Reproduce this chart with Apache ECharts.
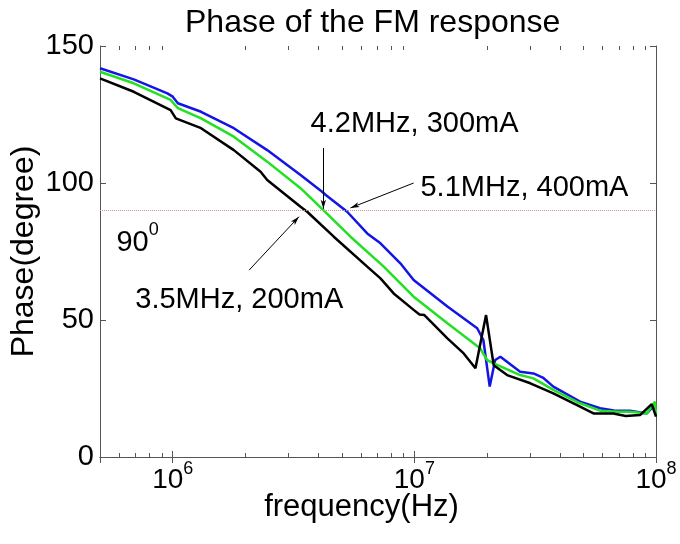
<!DOCTYPE html>
<html>
<head>
<meta charset="utf-8">
<title>Phase of the FM response</title>
<script src="https://cdn.jsdelivr.net/npm/echarts@6/dist/echarts.min.js"></script>
<style>
    html, body { margin: 0; padding: 0; background: #fff; }
    #main { width: 680px; height: 544px; }
</style>
</head>
<body>
<div id="main"></div>
<script>
    // values: frequency (Hz) and phase (degree)
    var blueFreq = [5.0e5, 6.9e5, 9.5e5, 1.0e6, 1.05e6, 1.31e6, 1.79e6, 2.46e6, 3.38e6, 4.15e6, 4.3e6, 5.27e6, 6.38e6, 7.24e6, 8.75e6, 9.93e6, 1.37e7, 1.82e7, 1.93e7, 2.05e7, 2.16e7, 2.27e7, 2.74e7, 3.11e7, 3.4e7, 3.76e7, 4.85e7, 5.87e7, 6.7e7, 7.81e7, 9.16e7, 9.74e7, 1.0e8];
    var bluePhase = [141.9, 137.8, 132.7, 131.5, 129.1, 126.0, 120.0, 112.0, 102.9, 96.8, 95.6, 89.5, 81.6, 78.0, 70.7, 64.6, 54.9, 47.0, 42.7, 25.7, 35.4, 36.6, 31.1, 30.5, 29.0, 25.7, 20.2, 17.8, 17.0, 16.9, 15.9, 18.5, 16.1];

    var greenFreq = [5.0e5, 6.9e5, 9.8e5, 1.05e6, 1.31e6, 1.79e6, 2.46e6, 3.38e6, 4.2e6, 5.44e6, 7.47e6, 9.93e6, 1.37e7, 1.87e7, 2.0e7, 2.2e7, 2.74e7, 3.11e7, 3.76e7, 4.85e7, 5.87e7, 7.0e7, 7.81e7, 9.16e7, 9.9e7, 1.0e8];
    var greenPhase = [140.6, 136.4, 130.3, 127.3, 123.6, 116.9, 107.8, 98.1, 90.1, 80.4, 69.5, 58.5, 48.8, 39.7, 35.4, 33.6, 29.9, 28.7, 24.5, 19.6, 16.9, 16.5, 16.5, 15.9, 20.2, 15.9];

    var blackFreq = [5.0e5, 6.9e5, 9.8e5, 1.03e6, 1.31e6, 1.79e6, 2.31e6, 2.46e6, 3.38e6, 3.6e6, 4.64e6, 6.38e6, 7.24e6, 8.21e6, 9.93e6, 1.05e7, 1.1e7, 1.37e7, 1.6e7, 1.79e7, 1.98e7, 2.13e7, 2.42e7, 3.02e7, 3.76e7, 4.85e7, 5.51e7, 6.66e7, 7.5e7, 8.59e7, 9.6e7, 1.0e8];
    var blackPhase = [138.2, 133.3, 126.6, 123.6, 120.0, 112.0, 104.1, 101.1, 91.3, 89.5, 80.4, 69.5, 65.2, 59.7, 53.7, 52.0, 51.8, 43.3, 37.8, 32.4, 51.8, 33.5, 29.9, 26.9, 23.2, 18.4, 15.9, 15.9, 15.0, 15.3, 19.3, 14.7];

    // log-axis minor ticks (2..9 x 10^n)
    var minorTickFreq = [6e5, 7e5, 8e5, 9e5, 2e6, 3e6, 4e6, 5e6, 6e6, 7e6, 8e6, 9e6, 2e7, 3e7, 4e7, 5e7, 6e7, 7e7, 8e7, 9e7];

    // annotations
    var noteText = ['4.2MHz, 300mA', '5.1MHz, 400mA', '3.5MHz, 200mA'];
    var noteFreq = [3.72e6, 1.06e7, 7.0e5];
    var notePhase = [121.5, 98.2, 57.3];
    var arrowFrom = [[4.2e6, 112.8], [9.93e6, 100.0], [2.07e6, 68.2]];
    var arrowTo = [[4.2e6, 90.6], [5.44e6, 90.9], [3.33e6, 87.7]];
    var refPhase = 90;

    var font = "'Liberation Sans', Arial, sans-serif";
    var axisColor = '#555';

    function zip(xs, ys) {
        var out = [];
        for (var i = 0; i < xs.length; i++) out.push([xs[i], ys[i]]);
        return out;
    }

    var myChart = echarts.init(document.getElementById('main'));
    myChart.setOption({
        animation: false,
        backgroundColor: '#fff',
        title: {
            text: 'Phase of the FM response',
            left: 180,
            top: 2,
            textStyle: { fontFamily: font, fontSize: 32, fontWeight: 'normal', color: '#000' }
        },
        grid: { left: 100, right: 24, top: 46, bottom: 87 },
        xAxis: [
            {
                type: 'log',
                logBase: 10,
                min: 5e5,
                max: 1e8,
                name: 'frequency(Hz)',
                nameLocation: 'middle',
                nameGap: 35,
                nameMoveOverlap: false,
                nameTextStyle: { fontFamily: font, fontSize: 31, color: '#000', padding: [0, 33, 0, 0] },
                axisLine: { show: true, lineStyle: { color: axisColor, width: 1 } },
                axisTick: { show: true, inside: true, length: 6, lineStyle: { color: axisColor } },
                splitLine: { show: false },
                axisLabel: {
                    margin: 3,
                    formatter: function (v) {
                        var e = Math.round(Math.log10(v));
                        if (Math.abs(Math.pow(10, e) - v) > v * 1e-6) return '';
                        return '{b|10}{s|' + e + '}';
                    },
                    rich: {
                        b: { fontFamily: font, fontSize: 28, color: '#000', lineHeight: 34, verticalAlign: 'bottom' },
                        s: { fontFamily: font, fontSize: 18, color: '#000', lineHeight: 18, verticalAlign: 'top' }
                    }
                }
            },
            {
                type: 'log',
                logBase: 10,
                min: 5e5,
                max: 1e8,
                position: 'top',
                axisLine: { show: true, lineStyle: { color: axisColor, width: 1 } },
                axisTick: { show: true, inside: true, length: 6, lineStyle: { color: axisColor } },
                axisLabel: { show: false },
                splitLine: { show: false }
            }
        ],
        yAxis: [
            {
                type: 'value',
                min: 0,
                max: 150,
                interval: 50,
                name: 'Phase(degree)',
                nameLocation: 'middle',
                nameGap: 60,
                nameMoveOverlap: false,
                nameTextStyle: { fontFamily: font, fontSize: 32, color: '#000' },
                axisLine: { show: true, lineStyle: { color: axisColor, width: 1 } },
                axisTick: { show: true, inside: true, length: 6, lineStyle: { color: axisColor } },
                axisLabel: { margin: 6, fontFamily: font, fontSize: 29, color: '#000' },
                splitLine: { show: false }
            },
            {
                type: 'value',
                min: 0,
                max: 150,
                interval: 50,
                position: 'right',
                axisLine: { show: true, lineStyle: { color: axisColor, width: 1 } },
                axisTick: { show: true, inside: true, length: 6, lineStyle: { color: axisColor } },
                axisLabel: { show: false },
                splitLine: { show: false }
            }
        ],
        series: [
            {
                name: '5.1MHz, 400mA',
                type: 'line',
                data: zip(blueFreq, bluePhase),
                showSymbol: false,
                lineStyle: { color: '#1414e6', width: 2.5 },
                silent: true
            },
            {
                name: '4.2MHz, 300mA',
                type: 'line',
                data: zip(greenFreq, greenPhase),
                showSymbol: false,
                lineStyle: { color: '#22e022', width: 2.5 },
                silent: true,
                markLine: {
                    silent: true,
                    symbol: 'none',
                    label: { show: false },
                    lineStyle: { color: '#d89090', type: 'dotted', width: 1 },
                    data: [{ yAxis: refPhase }]
                }
            },
            {
                name: '3.5MHz, 200mA',
                type: 'line',
                data: zip(blackFreq, blackPhase),
                showSymbol: false,
                lineStyle: { color: '#000', width: 2.5 },
                silent: true,
                markLine: {
                    silent: true,
                    symbol: ['none', 'arrow'],
                    symbolSize: [4, 9],
                    label: { show: false },
                    lineStyle: { color: '#000', type: 'solid', width: 1 },
                    data: arrowFrom.map(function (p, i) {
                        return [{ coord: p }, { coord: arrowTo[i] }];
                    })
                },
                markPoint: {
                    silent: true,
                    symbol: 'circle',
                    symbolSize: 0,
                    label: {
                        show: true,
                        position: 'right',
                        distance: 0,
                        fontFamily: font,
                        fontSize: 29,
                        color: '#000',
                        formatter: function (p) { return p.name; }
                    },
                    data: noteText.map(function (t, i) {
                        return { name: t, coord: [noteFreq[i], notePhase[i]] };
                    }).concat([{
                        name: '90',
                        coord: [5.85e5, 79.5],
                        label: {
                            formatter: '{b|90}{s|0}',
                            rich: {
                                b: { fontFamily: font, fontSize: 29, color: '#000', lineHeight: 36, verticalAlign: 'bottom' },
                                s: { fontFamily: font, fontSize: 18, color: '#000', lineHeight: 18, verticalAlign: 'top' }
                            }
                        }
                    }])
                }
            },
            {
                type: 'custom',
                silent: true,
                clip: false,
                data: minorTickFreq.map(function (f) { return [f, 0]; }),
                encode: { x: 0, y: 1 },
                renderItem: function (params, api) {
                    var f = api.value(0);
                    var b = api.coord([f, 0]);
                    var t = api.coord([f, 150]);
                    var x = Math.round(b[0]) + 0.5;
                    return {
                        type: 'group',
                        children: [
                            { type: 'line', shape: { x1: x, y1: b[1], x2: x, y2: b[1] - 4 }, style: { stroke: axisColor, lineWidth: 1 } },
                            { type: 'line', shape: { x1: x, y1: t[1], x2: x, y2: t[1] + 4 }, style: { stroke: axisColor, lineWidth: 1 } }
                        ]
                    };
                }
            }
        ]
    });
</script>
</body>
</html>
